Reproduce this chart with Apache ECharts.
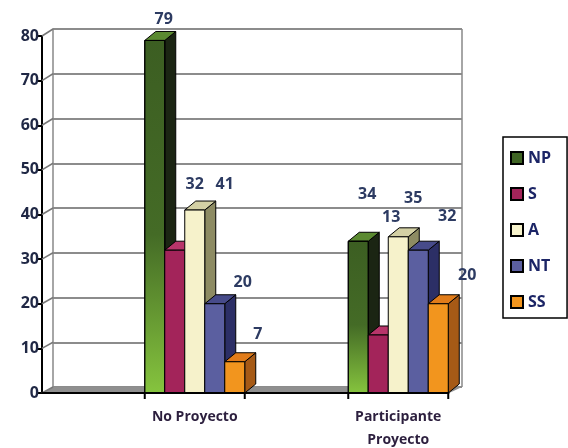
<!DOCTYPE html>
<html>
<head>
<meta charset="utf-8">
<script src="https://cdn.jsdelivr.net/npm/echarts@6/dist/echarts.min.js"></script>
<style>
    html, body { margin: 0; padding: 0; background: #fff; }
    #main { width: 568px; height: 448px; }
</style>
</head>
<body>
<div id="main"></div>
<script>
// datos del gráfico
var categories = ['No Proyecto', 'Participante\nProyecto'];
var seriesNames = ['NP', 'S', 'A', 'NT', 'SS'];
var npValues = [79, 34];
var sValues = [32, 13];
var aValues = [41, 35];
var ntValues = [20, 32];
var ssValues = [7, 20];
var yTicks = [0, 10, 20, 30, 40, 50, 60, 70, 80];

// estilo de cada barra 3D: cara frontal, lateral y superior
var faces = [
    { front: new echarts.graphic.LinearGradient(0, 0, 0, 1, [
        { offset: 0, color: '#3c5e22' }, { offset: 0.55, color: '#446b26' }, { offset: 1, color: '#86c43e' }
      ]), legend: '#3f6424', side: '#1b2513', top: '#5b8a31' },
    { front: '#a3245a', legend: '#a3245a', side: '#681537', top: '#b8356a' },
    { front: '#f6f2cb', legend: '#f6f2cb', side: '#8d8b63', top: '#d3d0a4' },
    { front: '#5b5fa0', legend: '#5b5fa0', side: '#2c2f66', top: '#474b8a' },
    { front: '#f2951e', legend: '#f2951e', side: '#a65a16', top: '#e17c1a' }
];
// desplazamiento de etiquetas (como en el original de Excel)
var labelNudge = [
    [[9, -21], [9, -47]],
    [[20, -66], [13, -118]],
    [[30, -26], [15, -38]],
    [[28, -21], [29, -34]],
    [[23, -27], [29, -28]]
];

var BAR_W = 20, GROUP_W = 100, DX = 11, DY = -9;

function bar3d(idx) {
    var f = faces[idx];
    return function (params, api) {
        var cat = api.value(0), val = api.value(1);
        var base = api.coord([cat, 0]);
        var top = api.coord([cat, val]);
        var x0 = base[0] - GROUP_W / 2 + idx * BAR_W;
        var x1 = x0 + BAR_W;
        var y0 = base[1], y1 = top[1];
        var nd = labelNudge[idx][cat];
        return {
            type: 'group',
            children: [
                { type: 'polygon', shape: { points: [[x1, y0], [x1 + DX, y0 + DY], [x1 + DX, y1 + DY], [x1, y1]] },
                  style: { fill: f.side, stroke: '#000', lineWidth: 1 } },
                { type: 'polygon', shape: { points: [[x0, y1], [x1, y1], [x1 + DX, y1 + DY], [x0 + DX, y1 + DY]] },
                  style: { fill: f.top, stroke: '#000', lineWidth: 1 } },
                { type: 'rect', shape: { x: x0, y: y1, width: BAR_W, height: y0 - y1 },
                  style: { fill: f.front, stroke: '#000', lineWidth: 1 } },
                { type: 'text', x: (x0 + x1) / 2 + nd[0], y: y1 + nd[1],
                  style: { text: String(val), fill: '#2d3b62', font: 'bold 16px "Open Sans", sans-serif',
                           align: 'center', verticalAlign: 'middle' } }
            ]
        };
    };
}

var allValues = [npValues, sValues, aValues, ntValues, ssValues];
var series = seriesNames.map(function (name, i) {
    return {
        name: name,
        type: 'custom',
        xAxisIndex: 1,
        yAxisIndex: 1,
        z: 10,
        itemStyle: { color: faces[i].legend, borderColor: '#000', borderWidth: 1 },
        renderItem: bar3d(i),
        encode: { x: 0, y: 1 },
        data: allValues[i].map(function (v, c) { return [c, v]; })
    };
});

var chart = echarts.init(document.getElementById('main'));
chart.setOption({
    animation: false,
    backgroundColor: '#fff',
    legend: {
        orient: 'vertical',
        left: 503,
        top: 137,
        data: seriesNames,
        icon: 'rect',
        itemWidth: 12,
        itemHeight: 12,
        itemGap: 20,
        padding: [13, 16, 8, 7],
        borderColor: '#000',
        borderWidth: 1.5,
        textStyle: { color: '#1c2566', fontWeight: 'bold', fontSize: 16, fontFamily: 'Open Sans' }
    },
    grid: [
        // pared del fondo
        { left: 53, right: 106, top: 29, bottom: 61, outerBoundsMode: 'none' },
        // plano frontal
        { left: 93, right: 68, top: 36, bottom: 55, outerBoundsMode: 'none' }
    ],
    xAxis: [
        { gridIndex: 0, type: 'category', data: categories, show: false },
        {
            gridIndex: 1, type: 'category', data: categories,
            axisLine: { show: false }, axisTick: { show: false },
            axisLabel: { margin: 13, color: '#2c1f3e', fontWeight: 'bold', fontSize: 14,
                         lineHeight: 23, fontFamily: 'Open Sans' }
        }
    ],
    yAxis: [
        {
            gridIndex: 0, type: 'value', min: 0, max: 80, interval: 10,
            axisLabel: { show: false }, axisTick: { show: false },
            axisLine: { show: true, lineStyle: { color: '#888', width: 1.5 } },
            splitLine: { show: true, lineStyle: { color: '#666', width: 1.5 } }
        },
        {
            gridIndex: 1, type: 'value', min: 0, max: 80, interval: 10, offset: 51,
            axisLine: { show: true, lineStyle: { color: '#000', width: 2 } },
            axisTick: { show: true, length: 6, lineStyle: { color: '#000', width: 2 } },
            axisLabel: { color: '#1f2744', fontWeight: 'bold', fontSize: 16, margin: 3, fontFamily: 'Open Sans' },
            splitLine: { show: false }
        }
    ],
    series: series
});

// decoración: piso, eje frontal, diagonales de la pared izquierda
var p0 = chart.convertToPixel({ xAxisIndex: 1, yAxisIndex: 1 }, [0, 0]);
var p1 = chart.convertToPixel({ xAxisIndex: 1, yAxisIndex: 1 }, [1, 0]);
var yb = chart.convertToPixel({ yAxisIndex: 0 }, 0);
var yTop = chart.convertToPixel({ yAxisIndex: 0 }, 80);
var frontX = 42, backX = 53, backRight = 462;
var yf = p0[1];
var xEnd = p1[0] + GROUP_W / 2 + 1;
var deco = [
    { type: 'polygon', z: 1, shape: { points: [[frontX, yf], [xEnd, yf], [backRight, yb], [backX, yb]] },
      style: { fill: '#8f8f8f' } },
    { type: 'line', z: 1, shape: { x1: backRight, y1: yTop, x2: backRight, y2: yb },
      style: { stroke: '#888', lineWidth: 1.5 } },
    { type: 'line', z: 50, shape: { x1: frontX, y1: yf, x2: xEnd, y2: yf }, style: { stroke: '#000', lineWidth: 2 } }
];
[p0, p1].forEach(function (p) {
    [p[0] - GROUP_W / 2, p[0] + GROUP_W / 2].forEach(function (x) {
        deco.push({ type: 'line', z: 50, shape: { x1: x, y1: yf, x2: x, y2: yf + 6 }, style: { stroke: '#000', lineWidth: 2 } });
    });
});
yTicks.forEach(function (t) {
    var yF = chart.convertToPixel({ yAxisIndex: 1 }, t);
    var yB = chart.convertToPixel({ yAxisIndex: 0 }, t);
    deco.push({ type: 'line', z: 1, shape: { x1: frontX, y1: yF, x2: backX, y2: yB }, style: { stroke: '#777', lineWidth: 1.5 } });
});
chart.setOption({ graphic: { elements: deco } });
</script>
</body>
</html>
